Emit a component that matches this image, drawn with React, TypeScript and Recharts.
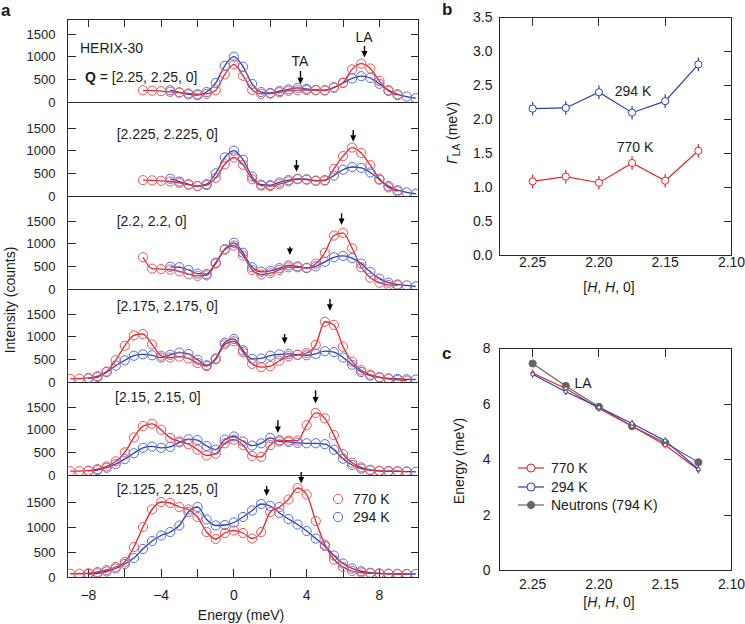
import React from "react";
import {
  ComposedChart,
  Line,
  XAxis,
  YAxis,
  ReferenceLine,
  ReferenceArea,
  ErrorBar,
  Legend,
} from "recharts";

const FONT = '"Liberation Sans", Arial, Helvetica, sans-serif';
const RED = "#e3252b";
const RED_DOT = "#ee5656";
const BLUE = "#2a3db6";
const BLUE_DOT = "#5470d6";
const GRAY = "#666666";
const INK = "#1b1b1b";
const FRAME = "#2a2a2a";

// ---- panel a: IXS spectra, energy (meV) vs intensity (counts)
const E_RED_NARROW = [-5, -4.5, -4, -3.5, -3, -2.5, -2, -1.5, -1, -0.5, 0, 0.5, 1, 1.5, 2, 2.5, 3, 3.5, 4, 4.5, 5, 5.5, 6, 6.5, 7, 7.5, 8, 8.5, 9];
const E_BLUE_NARROW = [-3.5, -3, -2.5, -2, -1.5, -1, -0.5, 0, 0.5, 1, 1.5, 2, 2.5, 3, 3.5, 4, 4.5, 5, 5.5, 6, 6.5, 7, 7.5, 8, 8.5, 9, 9.5, 10];
const E_RED_WIDE = [-9, -8.5, -8, -7.5, -7, -6.5, -6, -5.5, -5, -4.5, -4, -3.5, -3, -2.5, -2, -1.5, -1, -0.5, 0, 0.5, 1, 1.5, 2, 2.5, 3, 3.5, 4, 4.5, 5, 5.5, 6, 6.5, 7, 7.5, 8, 8.5, 9, 9.5];
const E_BLUE_WIDE = [-8, -7.5, -7, -6.5, -6, -5.5, -5, -4.5, -4, -3.5, -3, -2.5, -2, -1.5, -1, -0.5, 0, 0.5, 1, 1.5, 2, 2.5, 3, 3.5, 4, 4.5, 5, 5.5, 6, 6.5, 7, 7.5, 8, 8.5, 9, 9.5, 10];

const I770_2250 = [258, 250, 240, 225, 210, 190, 175, 180, 260, 610, 830, 580, 270, 180, 185, 215, 245, 260, 265, 260, 255, 320, 427, 720, 846, 740, 464, 243, 150];
const I294_2250 = [260, 210, 170, 150, 220, 420, 800, 1000, 780, 400, 220, 200, 240, 280, 310, 290, 265, 260, 320, 420, 520, 570, 530, 400, 260, 170, 120, 85];
const I770_2225 = [350, 345, 335, 320, 290, 250, 220, 240, 400, 700, 850, 690, 370, 230, 220, 260, 320, 370, 360, 335, 340, 600, 880, 1070, 950, 680, 380, 190, 100];
const I294_2225 = [380, 320, 260, 220, 260, 500, 850, 1000, 800, 430, 250, 240, 300, 350, 380, 370, 340, 350, 450, 580, 640, 620, 520, 360, 220, 130, 80, 50];
const I770_2200 = [700, 450, 440, 430, 390, 330, 290, 300, 560, 870, 960, 740, 420, 320, 350, 420, 480, 480, 470, 560, 800, 1180, 1240, 900, 480, 250, 140, 90, 80];
const I294_2200 = [490, 480, 420, 340, 330, 580, 880, 1020, 800, 480, 380, 400, 460, 520, 500, 460, 500, 600, 700, 730, 680, 560, 380, 230, 140, 100, 80, 60];
const I770_2175 = [70, 75, 90, 130, 230, 480, 800, 1030, 1060, 830, 580, 540, 560, 520, 420, 350, 500, 830, 900, 660, 400, 330, 350, 470, 570, 600, 640, 820, 1330, 1260, 780, 450, 260, 160, 105, 70, 45, 30];
const I294_2175 = [80, 110, 220, 360, 480, 580, 610, 590, 540, 600, 650, 620, 490, 370, 520, 870, 950, 700, 510, 520, 580, 610, 620, 600, 590, 620, 680, 660, 540, 380, 220, 140, 100, 80, 70, 60, 55];
const I770_2150 = [85, 85, 95, 130, 190, 300, 500, 830, 1080, 1130, 1000, 820, 740, 680, 560, 430, 470, 700, 780, 660, 420, 400, 660, 770, 760, 760, 1100, 1370, 1250, 880, 460, 270, 170, 115, 90, 85, 85, 75];
const I294_2150 = [90, 110, 160, 240, 350, 480, 600, 630, 600, 620, 720, 790, 770, 640, 560, 780, 850, 740, 650, 700, 820, 740, 730, 710, 700, 700, 680, 560, 360, 220, 140, 105, 90, 85, 80, 75, 70];
const I770_2125 = [65, 65, 75, 100, 140, 200, 300, 600, 1000, 1350, 1500, 1480, 1400, 1350, 1200, 900, 760, 880, 930, 880, 770, 900, 1300, 1400, 1550, 1780, 1650, 1120, 650, 350, 200, 120, 90, 75, 70, 65, 60, 60];
const I294_2125 = [60, 75, 110, 170, 260, 380, 560, 720, 830, 900, 1030, 1300, 1400, 1150, 1030, 1040, 1090, 1200, 1330, 1460, 1420, 1280, 1160, 1050, 920, 770, 620, 430, 270, 170, 115, 85, 70, 65, 60, 60, 60];

const Q_LABELS = ["[2.25, 2.25, 0]", "[2.225, 2.225, 0]", "[2.2, 2.2, 0]", "[2.175, 2.175, 0]", "[2.15, 2.15, 0]", "[2.125, 2.125, 0]"];
// phonon arrows: energy, and intensity of arrow tail / tip
const TA_E = [3.66, 3.44, 3.08, 2.79, 2.42, 1.8];
const LA_E = [7.18, 6.56, 5.92, 5.28, 4.49, 3.7];
const TA_Y = [[684, 391], [795, 536], [934, 751], [1060, 839], [1208, 927], [1820, 1620]];
const LA_Y = [[1236, 980], [1457, 1199], [1669, 1413], [1832, 1574], [1870, 1576], [2100, 1868]];

const E_TICKS = [-8, -6, -4, -2, 0, 2, 4, 6, 8];
const I_TICKS = [0, 500, 1000, 1500];

// ---- panels b, c
const H_HH0 = [2.25, 2.225, 2.2, 2.175, 2.15, 2.125];
const GAMMA_770 = [1.09, 1.16, 1.07, 1.36, 1.1, 1.54];
const GAMMA_294 = [2.16, 2.17, 2.4, 2.1, 2.27, 2.81];
const GAMMA_ERR_770 = [0.1, 0.1, 0.1, 0.1, 0.1, 0.1];
const GAMMA_ERR_294 = [0.1, 0.1, 0.1, 0.1, 0.1, 0.1];
const ELA_770 = [7.12, 6.56, 5.84, 5.2, 4.52, 3.62];
const ELA_294 = [7.07, 6.44, 5.88, 5.3, 4.68, 3.65];
const ELA_ERR_770 = [0.12, 0.12, 0.12, 0.12, 0.12, 0.12];
const ELA_ERR_294 = [0.12, 0.12, 0.12, 0.12, 0.12, 0.12];
const ELA_NEUTRON = [7.46, 6.65, 5.9, 5.2, 4.6, 3.9];
const H_TICKS = [2.25, 2.2, 2.15, 2.1];
const H_INNER_TICKS = [2.25, 2.2, 2.15];
const GAMMA_TICKS = [0, 0.5, 1, 1.5, 2, 2.5, 3, 3.5];
const ELA_TICKS = [0, 2, 4, 6, 8];

// layout of the six stacked spectra (edges on half pixels so frames stay crisp)
const PANEL_TOP = [18.5, 101.5, 195.5, 288.5, 381.5, 474.5];
const PANEL_H = [83, 94, 93, 93, 93, 102];
const PX_PER_500 = [22.65, 22.65, 22.65, 22.65, 22.65, 25];
const E_DOMAIN: [number, number] = [-9.15, 10.15];
const H_DOMAIN: [number, number] = [2.1, 2.275];
const TICK_LEN = 8;

const RED_E = [E_RED_NARROW, E_RED_NARROW, E_RED_NARROW, E_RED_WIDE, E_RED_WIDE, E_RED_WIDE];
const BLUE_E = [E_BLUE_NARROW, E_BLUE_NARROW, E_BLUE_NARROW, E_BLUE_WIDE, E_BLUE_WIDE, E_BLUE_WIDE];
const RED_I = [I770_2250, I770_2225, I770_2200, I770_2175, I770_2150, I770_2125];
const BLUE_I = [I294_2250, I294_2225, I294_2200, I294_2175, I294_2150, I294_2125];

const toPts = (es: number[], vs: number[]) => es.map((e, i) => ({ e, v: vs[i] }));
const minus = (v: number) => (v < 0 ? "\u2212" + Math.abs(v) : String(v));
const fmtE = (v: number) => (v % 4 === 0 ? minus(v) : "");

const gammaRows = H_HH0.map((h, i) => ({
  h,
  g770: GAMMA_770[i],
  e770: GAMMA_ERR_770[i],
  g294: GAMMA_294[i],
  e294: GAMMA_ERR_294[i],
}));
const elaRows = H_HH0.map((h, i) => ({
  h,
  x770: ELA_770[i],
  ex770: ELA_ERR_770[i],
  x294: ELA_294[i],
  ex294: ELA_ERR_294[i],
  xn: ELA_NEUTRON[i],
}));

const tickFont = (size: number) => ({ fontSize: size, fill: INK, fontFamily: FONT });

function Arrow(p: any) {
  const x = p.x1;
  const top = Math.min(p.y1, p.y2);
  const tip = Math.max(p.y1, p.y2);
  return (
    <g>
      <line x1={x} x2={x} y1={top} y2={tip - 5} stroke="#000" strokeWidth={1.4} />
      <path d={`M${x - 3},${tip - 6.5} L${x + 3},${tip - 6.5} L${x},${tip} Z`} fill="#000" />
    </g>
  );
}

// plot frame drawn as an unfilled reference area
function Frame(p: any) {
  return (
    <rect
      x={p.x}
      y={p.y}
      width={p.width}
      height={p.height}
      fill="none"
      stroke={FRAME}
      strokeWidth={1}
      shapeRendering="crispEdges"
    />
  );
}

// inward tick stubs drawn on a horizontal reference line (y ticks)
const yStub = (left: boolean, right: boolean) => (p: any) => {
  const a = Math.min(p.x1, p.x2);
  const b = Math.max(p.x1, p.x2);
  return (
    <g stroke={FRAME} strokeWidth={1} shapeRendering="crispEdges">
      {left && <line x1={a} x2={a + TICK_LEN} y1={p.y1} y2={p.y1} />}
      {right && <line x1={b - TICK_LEN} x2={b} y1={p.y1} y2={p.y1} />}
    </g>
  );
};

// inward tick stubs drawn on a vertical reference line (x ticks)
const xStub = (top: boolean, bottom: boolean) => (p: any) => {
  const a = Math.min(p.y1, p.y2);
  const b = Math.max(p.y1, p.y2);
  return (
    <g stroke={FRAME} strokeWidth={1} shapeRendering="crispEdges">
      {top && <line x1={p.x1} x2={p.x1} y1={a} y2={a + TICK_LEN} />}
      {bottom && <line x1={p.x1} x2={p.x1} y1={b - TICK_LEN} y2={b} />}
    </g>
  );
};

function Note({ x, y, children, size = 14, center = false, rotate = false, bold = false }: any) {
  const tx = center || rotate ? "-50%" : "0";
  return (
    <div
      style={{
        position: "absolute",
        left: x,
        top: y,
        transform: `translate(${tx}, -50%)${rotate ? " rotate(-90deg)" : ""}`,
        fontFamily: FONT,
        fontSize: size,
        fontWeight: bold ? 700 : 400,
        color: INK,
        whiteSpace: "nowrap",
        lineHeight: 1,
      }}
    >
      {children}
    </div>
  );
}

function LegendA() {
  const rows = [
    { name: "770 K", color: RED_DOT },
    { name: "294 K", color: BLUE_DOT },
  ];
  return (
    <div style={{ fontFamily: FONT, fontSize: 14, color: INK }}>
      {rows.map((r) => (
        <div key={r.name} style={{ display: "flex", alignItems: "center", height: 17.7 }}>
          <svg width={14} height={14}>
            <circle cx={7} cy={7} r={4.6} fill="none" stroke={r.color} strokeWidth={1} />
          </svg>
          <span style={{ marginLeft: 8 }}>{r.name}</span>
        </div>
      ))}
    </div>
  );
}

function LegendC() {
  const rows = [
    { name: "770 K", color: RED, filled: false },
    { name: "294 K", color: BLUE, filled: false },
    { name: "Neutrons (794 K)", color: GRAY, filled: true },
  ];
  return (
    <div style={{ fontFamily: FONT, fontSize: 14, color: INK }}>
      {rows.map((r) => (
        <div key={r.name} style={{ display: "flex", alignItems: "center", height: 18.4 }}>
          <svg width={26} height={14}>
            <line x1={0} x2={26} y1={7} y2={7} stroke={r.color} strokeWidth={1.2} />
            <circle cx={13} cy={7} r={r.filled ? 3.6 : 4} fill={r.filled ? r.color : "#fff"} stroke={r.color} strokeWidth={1} />
          </svg>
          <span style={{ marginLeft: 7 }}>{r.name}</span>
        </div>
      ))}
    </div>
  );
}

function SpectrumPanel({ i }: { i: number }) {
  const first = i === 0;
  const last = i === 5;
  const h = PANEL_H[i];
  const yMax = (h / PX_PER_500[i]) * 500;
  const bottomH = last ? 47.5 : 0;
  const red = toPts(RED_E[i], RED_I[i]);
  const blue = toPts(BLUE_E[i], BLUE_I[i]);
  return (
    <div style={{ position: "absolute", left: 0, top: PANEL_TOP[i] }}>
      <ComposedChart width={420} height={h + bottomH} margin={{ top: 0, right: 1.5, bottom: 0, left: 0 }}>
        <XAxis
          xAxisId="x"
          dataKey="e"
          type="number"
          domain={E_DOMAIN}
          allowDataOverflow
          ticks={E_TICKS}
          interval={0}
          tickFormatter={fmtE}
          height={bottomH}
          hide={!last}
          axisLine={false}
          tickLine={false}
          tickSize={0}
          tickMargin={13}
          tick={tickFont(14)}
        />
        <YAxis
          yAxisId="l"
          type="number"
          domain={[0, yMax]}
          allowDataOverflow
          ticks={I_TICKS}
          interval={0}
          width={67.5}
          axisLine={false}
          tickLine={false}
          tickSize={0}
          tickMargin={12}
          tick={tickFont(13)}
        />
        <ReferenceArea
          xAxisId="x"
          yAxisId="l"
          x1={E_DOMAIN[0]}
          x2={E_DOMAIN[1]}
          y1={0}
          y2={yMax}
          ifOverflow="visible"
          shape={Frame}
        />
        {I_TICKS.map((t) => (
          <ReferenceLine key={"y" + t} xAxisId="x" yAxisId="l" y={t} ifOverflow="visible" shape={yStub(true, true)} />
        ))}
        {(first || last) &&
          E_TICKS.map((t) => (
            <ReferenceLine key={"x" + t} xAxisId="x" yAxisId="l" x={t} ifOverflow="visible" shape={xStub(first, last)} />
          ))}
        <Line
          xAxisId="x"
          yAxisId="l"
          data={blue}
          dataKey="v"
          type="monotone"
          stroke={BLUE}
          strokeWidth={1.3}
          dot={{ r: 4.6, stroke: BLUE_DOT, strokeWidth: 1, fill: "none" }}
          activeDot={false}
          isAnimationActive={false}
        />
        <Line
          xAxisId="x"
          yAxisId="l"
          data={red}
          dataKey="v"
          type="monotone"
          stroke={RED}
          strokeWidth={1.3}
          dot={{ r: 4.6, stroke: RED_DOT, strokeWidth: 1, fill: "none" }}
          activeDot={false}
          isAnimationActive={false}
        />
        <ReferenceLine
          xAxisId="x"
          yAxisId="l"
          ifOverflow="visible"
          segment={[{ x: TA_E[i], y: TA_Y[i][0] }, { x: TA_E[i], y: TA_Y[i][1] }]}
          shape={Arrow}
        />
        <ReferenceLine
          xAxisId="x"
          yAxisId="l"
          ifOverflow="visible"
          segment={[{ x: LA_E[i], y: LA_Y[i][0] }, { x: LA_E[i], y: LA_Y[i][1] }]}
          shape={Arrow}
        />
        {last && (
          <Legend
            layout="horizontal"
            verticalAlign="middle"
            align="center"
            wrapperStyle={{ left: 331, top: 15.5, width: 90 }}
            content={() => <LegendA />}
          />
        )}
      </ComposedChart>
    </div>
  );
}

export default function App() {
  return (
    <div
      style={{
        position: "absolute",
        left: 0,
        top: 0,
        width: 745,
        height: 624,
        background: "#fff",
        fontFamily: FONT,
      }}
    >
      <style>{`.recharts-surface{overflow:visible}`}</style>

      {[0, 1, 2, 3, 4, 5].map((i) => (
        <SpectrumPanel key={i} i={i} />
      ))}

      {/* panel b */}
      <div style={{ position: "absolute", left: 450, top: 0 }}>
        <ComposedChart width={295} height={300} data={gammaRows} margin={{ top: 17.5, right: 13.5, bottom: 0, left: 0 }}>
          <XAxis
            xAxisId="b"
            dataKey="h"
            type="number"
            domain={H_DOMAIN}
            reversed
            allowDataOverflow
            ticks={H_TICKS}
            interval={0}
            tickFormatter={(v: number) => v.toFixed(2)}
            axisLine={false}
            tickLine={false}
            tickSize={0}
            tickMargin={2}
            height={44.5}
            tick={tickFont(14)}
          />
          <YAxis
            yAxisId="l"
            type="number"
            domain={[0, 3.5]}
            allowDataOverflow
            ticks={GAMMA_TICKS}
            interval={0}
            tickFormatter={(v: number) => v.toFixed(1)}
            axisLine={false}
            tickLine={false}
            tickSize={0}
            tickMargin={7}
            width={49.5}
            tick={tickFont(14)}
          />
          <ReferenceArea
            xAxisId="b"
            yAxisId="l"
            x1={H_DOMAIN[0]}
            x2={H_DOMAIN[1]}
            y1={0}
            y2={3.5}
            ifOverflow="visible"
            shape={Frame}
          />
          {GAMMA_TICKS.map((t) => (
            <ReferenceLine key={"y" + t} xAxisId="b" yAxisId="l" y={t} ifOverflow="visible" shape={yStub(false, true)} />
          ))}
          {H_INNER_TICKS.map((t) => (
            <ReferenceLine key={"x" + t} xAxisId="b" yAxisId="l" x={t} ifOverflow="visible" shape={xStub(true, false)} />
          ))}
          <Line
            xAxisId="b"
            yAxisId="l"
            dataKey="g294"
            stroke={BLUE}
            strokeWidth={1.2}
            dot={{ r: 3.6, stroke: BLUE, strokeWidth: 1, fill: "#fff" }}
            activeDot={false}
            isAnimationActive={false}
          >
            <ErrorBar dataKey="e294" width={0} stroke={BLUE} strokeWidth={1.2} direction="y" />
          </Line>
          <Line
            xAxisId="b"
            yAxisId="l"
            dataKey="g770"
            stroke={RED}
            strokeWidth={1.2}
            dot={{ r: 3.6, stroke: RED, strokeWidth: 1, fill: "#fff" }}
            activeDot={false}
            isAnimationActive={false}
          >
            <ErrorBar dataKey="e770" width={0} stroke={RED} strokeWidth={1.2} direction="y" />
          </Line>
        </ComposedChart>
      </div>

      {/* panel c */}
      <div style={{ position: "absolute", left: 450, top: 330 }}>
        <ComposedChart width={295} height={294} data={elaRows} margin={{ top: 18.5, right: 13.5, bottom: 0, left: 0 }}>
          <XAxis
            xAxisId="b"
            dataKey="h"
            type="number"
            domain={H_DOMAIN}
            reversed
            allowDataOverflow
            ticks={H_TICKS}
            interval={0}
            tickFormatter={(v: number) => v.toFixed(2)}
            axisLine={false}
            tickLine={false}
            tickSize={0}
            tickMargin={9}
            height={53.5}
            tick={tickFont(14)}
          />
          <YAxis
            yAxisId="l"
            type="number"
            domain={[0, 8]}
            allowDataOverflow
            ticks={ELA_TICKS}
            interval={0}
            axisLine={false}
            tickLine={false}
            tickSize={0}
            tickMargin={9}
            width={49.5}
            tick={tickFont(14)}
          />
          <ReferenceArea
            xAxisId="b"
            yAxisId="l"
            x1={H_DOMAIN[0]}
            x2={H_DOMAIN[1]}
            y1={0}
            y2={8}
            ifOverflow="visible"
            shape={Frame}
          />
          {ELA_TICKS.map((t) => (
            <ReferenceLine key={"y" + t} xAxisId="b" yAxisId="l" y={t} ifOverflow="visible" shape={yStub(false, true)} />
          ))}
          {H_INNER_TICKS.map((t) => (
            <ReferenceLine key={"x" + t} xAxisId="b" yAxisId="l" x={t} ifOverflow="visible" shape={xStub(true, false)} />
          ))}
          <Line
            xAxisId="b"
            yAxisId="l"
            dataKey="xn"
            stroke={GRAY}
            strokeWidth={1.2}
            dot={{ r: 3.6, stroke: GRAY, strokeWidth: 1, fill: GRAY }}
            activeDot={false}
            isAnimationActive={false}
          />
          <Line
            xAxisId="b"
            yAxisId="l"
            dataKey="x770"
            stroke={RED}
            strokeWidth={1.2}
            dot={{ r: 1.8, stroke: RED, strokeWidth: 1, fill: "#fff" }}
            activeDot={false}
            isAnimationActive={false}
          >
            <ErrorBar dataKey="ex770" width={0} stroke={RED} strokeWidth={1.2} direction="y" />
          </Line>
          <Line
            xAxisId="b"
            yAxisId="l"
            dataKey="x294"
            stroke={BLUE}
            strokeWidth={1.2}
            dot={{ r: 1.8, stroke: BLUE, strokeWidth: 1, fill: "#fff" }}
            activeDot={false}
            isAnimationActive={false}
          >
            <ErrorBar dataKey="ex294" width={0} stroke={BLUE} strokeWidth={1.2} direction="y" />
          </Line>
          <Legend
            layout="horizontal"
            verticalAlign="middle"
            align="center"
            wrapperStyle={{ left: 68, top: 129.2, width: 160 }}
            content={() => <LegendC />}
          />
        </ComposedChart>
      </div>

      {/* panel letters and annotations */}
      <Note x={1} y={10} size={17} bold>a</Note>
      <Note x={442} y={9} size={17} bold>b</Note>
      <Note x={442} y={353} size={17} bold>c</Note>

      <Note x={80} y={47.5}>HERIX-30</Note>
      <Note x={85} y={77.3}>
        <b>Q</b> = {Q_LABELS[0]}
      </Note>
      <Note x={116.7} y={134}>{Q_LABELS[1]}</Note>
      <Note x={116.7} y={221}>{Q_LABELS[2]}</Note>
      <Note x={116.7} y={306.3}>{Q_LABELS[3]}</Note>
      <Note x={115} y={396.7}>{Q_LABELS[4]}</Note>
      <Note x={116.7} y={489}>{Q_LABELS[5]}</Note>
      <Note x={300} y={60.7} center>TA</Note>
      <Note x={364} y={37.3} center>LA</Note>

      <Note x={10} y={300} rotate>Intensity (counts)</Note>
      <Note x={241} y={615} center>Energy (meV)</Note>

      <Note x={633} y={91} center>294 K</Note>
      <Note x={635} y={147} center>770 K</Note>
      <Note x={452} y={133} rotate>
        <i>Γ</i>
        <span style={{ fontSize: 10, position: "relative", top: 3 }}>LA</span> (meV)
      </Note>
      <Note x={609} y={287} center>
        [<i>H</i>, <i>H</i>, 0]
      </Note>

      <Note x={459} y={461} rotate>Energy (meV)</Note>
      <Note x={609} y={602} center>
        [<i>H</i>, <i>H</i>, 0]
      </Note>
      <Note x={583} y={383} center>LA</Note>
    </div>
  );
}
